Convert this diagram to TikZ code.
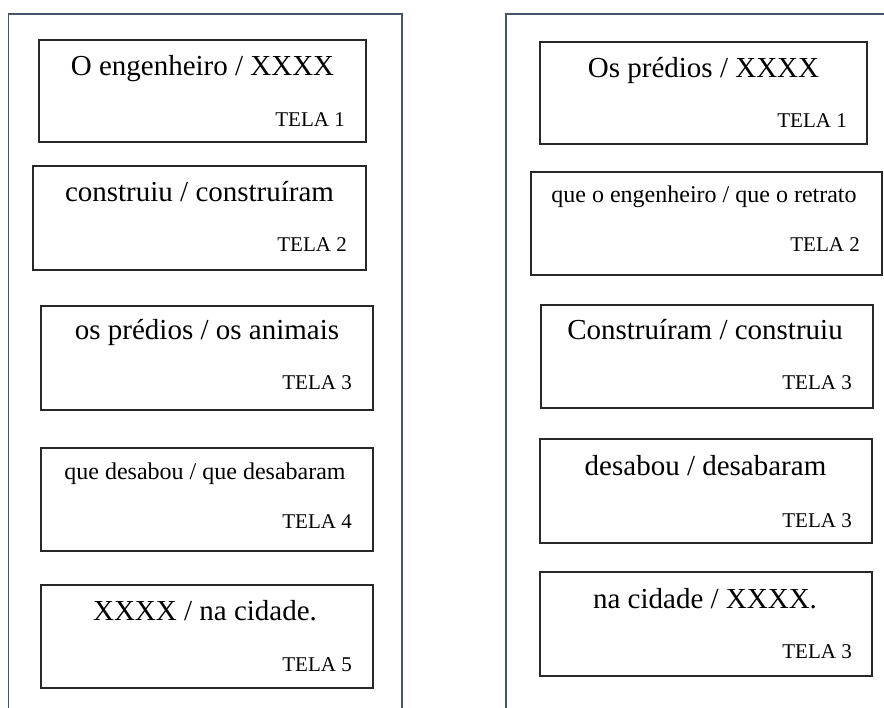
\documentclass[tikz,border=0pt]{standalone}
\usepackage{fontspec}
\setmainfont{Liberation Serif}
\definecolor{panelc}{RGB}{70,86,106}
\definecolor{boxc}{RGB}{40,40,40}
\begin{document}
\begin{tikzpicture}[x=1pt,y=-1pt,
  panel/.style={draw=panelc, line width=1.4pt},
  box/.style={draw=boxc, line width=1.3pt, inner sep=0pt, rectangle},
  maintext/.style={anchor=base, inner sep=0pt, font=\fontsize{29}{30}\selectfont},
  smalltext/.style={anchor=base, inner sep=0pt, font=\fontsize{24}{26}\selectfont},
  tela/.style={anchor=base east, inner sep=0pt, font=\fontsize{21}{22}\selectfont}]
\useasboundingbox (0,0) rectangle (884,708);
\clip (0,0) rectangle (884,708);
% panels
\draw[panel] (8.5,720) -- (8.5,14) -- (402,14) -- (402,720);
\draw[panel] (506,720) -- (506,14) -- (900,14);
% left boxes
\node[box, minimum width=327pt, minimum height=102pt] (L1) at (202.5,91) {};
\node[box, minimum width=333pt, minimum height=104pt] (L2) at (199.5,218) {};
\node[box, minimum width=332pt, minimum height=104pt] (L3) at (207,358) {};
\node[box, minimum width=332pt, minimum height=103pt] (L4) at (207,499.5) {};
\node[box, minimum width=332pt, minimum height=103pt] (L5) at (207,636.5) {};
\node[maintext] (L1t) at (202.5,76) {O engenheiro / XXXX};
\node[maintext] (L2t) at (199.5,202) {construiu / construíram};
\node[maintext] (L3t) at (207,340) {os prédios / os animais};
\node[smalltext] (L4t) at (205,479) {que desabou / que desabaram};
\node[maintext] (L5t) at (205,620) {XXXX / na cidade.};
\node[tela] (L1n) at (345,127) {TELA 1};
\node[tela] (L2n) at (347,252) {TELA 2};
\node[tela] (L3n) at (352,390) {TELA 3};
\node[tela] (L4n) at (352,528) {TELA 4};
\node[tela] (L5n) at (352,671) {TELA 5};
% right boxes
\node[box, minimum width=327pt, minimum height=102pt] (R1) at (703.5,93) {};
\node[box, minimum width=351pt, minimum height=103pt] (R2) at (706.5,223.5) {};
\node[box, minimum width=332pt, minimum height=103pt] (R3) at (707,356.5) {};
\node[box, minimum width=332pt, minimum height=104pt] (R4) at (706,491) {};
\node[box, minimum width=332pt, minimum height=104pt] (R5) at (706,624) {};
\node[maintext] (R1t) at (703.5,78) {Os prédios / XXXX};
\node[smalltext] (R2t) at (704,203) {que o engenheiro / que o retrato};
\node[maintext] (R3t) at (705,340) {Construíram / construiu};
\node[maintext] (R4t) at (705.5,476) {desabou / desabaram};
\node[maintext] (R5t) at (705,608) {na cidade / XXXX.};
\node[tela] (R1n) at (847,128) {TELA 1};
\node[tela] (R2n) at (860,252) {TELA 2};
\node[tela] (R3n) at (852,390) {TELA 3};
\node[tela] (R4n) at (852,527) {TELA 3};
\node[tela] (R5n) at (852,658) {TELA 3};
\end{tikzpicture}
\end{document}
